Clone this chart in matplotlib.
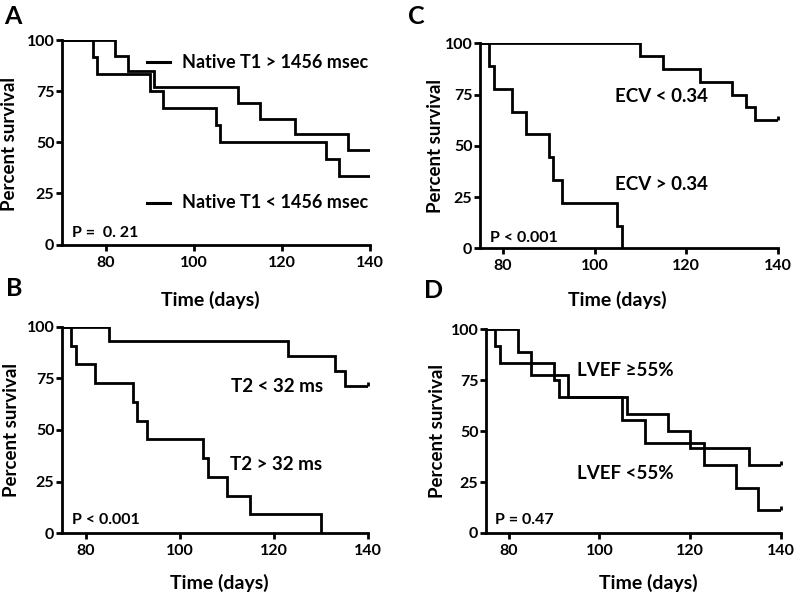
import matplotlib
matplotlib.use("Agg")
import matplotlib.pyplot as plt

plt.rcParams['font.family'] = ['Lato', 'DejaVu Sans']

# ---------------- data ----------------
# Panel A: Native T1
a_hi_t = [70, 82, 85, 91, 110, 115, 123, 135, 140]
a_hi_s = [100, 92.3, 84.6, 76.9, 69.2, 61.5, 53.8, 46.2, 46.2]
a_lo_t = [70, 77, 78, 90, 93, 105, 106, 130, 133, 140]
a_lo_s = [100, 91.7, 83.3, 75, 66.7, 58.3, 50, 41.7, 33.3, 33.3]

# Panel B: T2
b_lo_t = [75, 85, 123, 133, 135, 140]
b_lo_s = [100, 92.9, 85.7, 78.6, 71.4, 71.4]
b_hi_t = [75, 77, 78, 82, 90, 91, 93, 105, 106, 110, 115, 130]
b_hi_s = [100, 90.9, 81.8, 72.7, 63.6, 54.5, 45.5, 36.4, 27.3, 18.2, 9.1, 0]

# Panel C: ECV
c_lo_t = [75, 110, 115, 123, 130, 133, 135, 140]
c_lo_s = [100, 93.8, 87.5, 81.3, 75, 68.8, 62.5, 62.5]
c_hi_t = [75, 77, 78, 82, 85, 90, 91, 93, 105, 106]
c_hi_s = [100, 88.9, 77.8, 66.7, 55.6, 44.4, 33.3, 22.2, 11.1, 0]

# Panel D: LVEF
d_a_t = [75, 82, 85, 93, 105, 110, 123, 130, 135, 140]
d_a_s = [100, 88.9, 77.8, 66.7, 55.6, 44.4, 33.3, 22.2, 11.1, 11.1]
d_b_t = [75, 77, 78, 90, 91, 106, 115, 120, 133, 140]
d_b_s = [100, 91.7, 83.3, 75, 66.7, 58.3, 50, 41.7, 33.3, 33.3]

x_ticks = [80, 100, 120, 140]
y_ticks = [0, 25, 50, 75, 100]
xlim_a = (70, 140)
xlim_other = (75, 140)

W, H = 800, 595
fig = plt.figure(figsize=(W / 100, H / 100), dpi=100)
fig.patch.set_facecolor('white')


def add_ax(x0, x1, ytop, ybot):
    return fig.add_axes([x0 / W, 1 - ybot / H, (x1 - x0) / W, (ybot - ytop) / H])


LW = 2.0
TICK_FS = 11.5
up_tick = [(0, 0), (0, 1)]


def style(ax, xlim, xlab_pos, ylab_pos):
    ax.set_xlim(*xlim)
    ax.set_ylim(0, 100)
    ax.set_xticks(x_ticks)
    ax.set_yticks(y_ticks)
    for s in ['top', 'right']:
        ax.spines[s].set_visible(False)
    for s in ['left', 'bottom']:
        ax.spines[s].set_linewidth(LW)
    ax.tick_params(axis='both', width=LW, length=4, direction='out',
                   labelsize=TICK_FS)
    ax.tick_params(axis='x', pad=4)
    ax.tick_params(axis='y', pad=1.5)
    for lab in ax.get_xticklabels() + ax.get_yticklabels():
        lab.set_fontweight('bold')
    ax.set_xlabel('Time (days)', fontsize=14, fontweight='bold')
    ax.set_ylabel('Percent survival', fontsize=13.5, fontweight='bold')
    ax.xaxis.label.set_va('center')
    ax.yaxis.label.set_va('center')
    ax.xaxis.set_label_coords(*xlab_pos)
    ax.yaxis.set_label_coords(*ylab_pos)


def km(ax, t, s, end_tick=False):
    ax.step(t, s, where='post', color='black', lw=2.0, solid_joinstyle='miter')
    if end_tick:
        ax.plot([t[-1]], [s[-1]], marker=up_tick, ms=6, mew=2.0,
                color='black', clip_on=False)


TXT_FS = 13.5
P_FS = 11.5

# ---------------- Panel A ----------------
axA = add_ax(62, 370, 40, 244.5)
style(axA, xlim_a, (0.48, -0.27), (-0.172, 0.49))
km(axA, a_hi_t, a_hi_s)
km(axA, a_lo_t, a_lo_s)
axA.plot([0.276, 0.351], [0.89, 0.89], color='black', lw=2.2, transform=axA.transAxes)
axA.plot([0.276, 0.351], [0.205, 0.205], color='black', lw=2.2, transform=axA.transAxes)
axA.text(0.39, 0.89, 'Native T1 > 1456 msec', transform=axA.transAxes,
         fontsize=13, fontweight='bold', va='center', ha='left')
axA.text(0.39, 0.205, 'Native T1 < 1456 msec', transform=axA.transAxes,
         fontsize=13, fontweight='bold', va='center', ha='left')
axA.text(0.032, 0.056, 'P =  0. 21', transform=axA.transAxes,
         fontsize=P_FS, fontweight='bold', va='center', ha='left')

# ---------------- Panel C ----------------
axC = add_ax(480, 777.7, 43.3, 248.3)
style(axC, xlim_other, (0.46, -0.25), (-0.148, 0.5))
km(axC, c_lo_t, c_lo_s, end_tick=True)
km(axC, c_hi_t, c_hi_s)
axC.text(0.453, 0.74, 'ECV < 0.34', transform=axC.transAxes,
         fontsize=TXT_FS, fontweight='bold', va='center', ha='left')
axC.text(0.453, 0.309, 'ECV > 0.34', transform=axC.transAxes,
         fontsize=TXT_FS, fontweight='bold', va='center', ha='left')
axC.text(0.034, 0.05, 'P < 0.001', transform=axC.transAxes,
         fontsize=P_FS, fontweight='bold', va='center', ha='left')

# ---------------- Panel B ----------------
axB = add_ax(62, 368.3, 326.7, 533.3)
style(axB, xlim_other, (0.515, -0.24), (-0.166, 0.5))
km(axB, b_lo_t, b_lo_s, end_tick=True)
km(axB, b_hi_t, b_hi_s)
axB.text(0.553, 0.71, 'T2 < 32 ms', transform=axB.transAxes,
         fontsize=TXT_FS, fontweight='bold', va='center', ha='left')
axB.text(0.548, 0.331, 'T2 > 32 ms', transform=axB.transAxes,
         fontsize=TXT_FS, fontweight='bold', va='center', ha='left')
axB.text(0.032, 0.065, 'P < 0.001', transform=axB.transAxes,
         fontsize=P_FS, fontweight='bold', va='center', ha='left')

# ---------------- Panel D ----------------
axD = add_ax(486, 781, 329.3, 533)
style(axD, xlim_other, (0.55, -0.245), (-0.164, 0.5))
km(axD, d_a_t, d_a_s, end_tick=True)
km(axD, d_b_t, d_b_s, end_tick=True)
axD.text(0.308, 0.80, 'LVEF \u226555%', transform=axD.transAxes,
         fontsize=TXT_FS, fontweight='bold', va='center', ha='left')
axD.text(0.308, 0.29, 'LVEF <55%', transform=axD.transAxes,
         fontsize=TXT_FS, fontweight='bold', va='center', ha='left')
axD.text(0.03, 0.065, 'P = 0.47', transform=axD.transAxes,
         fontsize=P_FS, fontweight='bold', va='center', ha='left')

# ---------------- panel letters ----------------
for letter, px, py in [('A', 4, 16), ('C', 408, 16), ('B', 6, 288), ('D', 424, 290)]:
    fig.text(px / W, 1 - py / H, letter, fontsize=18, fontweight='bold',
             va='center', ha='left')

fig.savefig('out.png', dpi=100, facecolor='white')
